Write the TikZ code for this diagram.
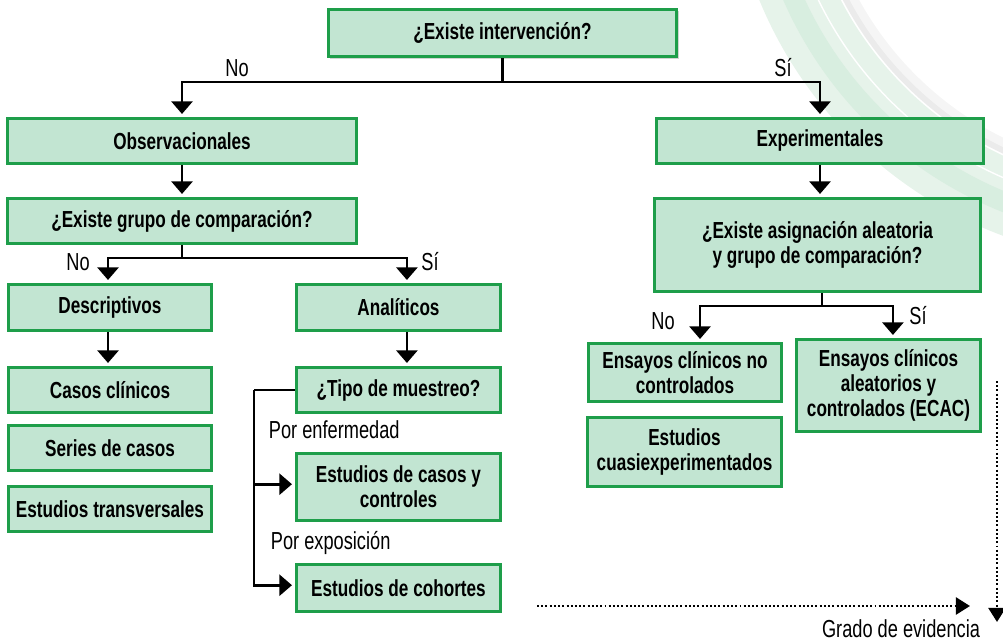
\documentclass[tikz,border=0pt]{standalone}
\usepackage{fontspec}
\setmainfont{Liberation Sans}[FakeStretch=0.74]
\usepackage{tikz}
\usetikzlibrary{arrows.meta,shadows}
\usepackage{xcolor}
\definecolor{boxfill}{HTML}{C2E5D2}
\definecolor{boxline}{HTML}{1E9E4A}
\definecolor{bandA}{HTML}{E6F3EA}
\definecolor{bandB}{HTML}{D8EEE0}

\begin{document}
\begin{tikzpicture}[x=0.025cm,y=-0.025cm,
  every node/.style={font=\fontsize{17.5pt}{18pt}\selectfont},
  box/.style={draw=boxline,fill=boxfill,line width=2pt,inner sep=2pt,align=center,font=\fontsize{16.5pt}{18pt}\selectfont\bfseries},
  line/.style={line width=1.9pt},
  arr/.style={line width=1.9pt,-{Triangle[width=15pt,length=9pt]},shorten >=2pt},
  dots/.style={line width=2pt,dash pattern=on 1.4pt off 1.6pt,-{Triangle[width=12pt,length=10pt]}}]
\useasboundingbox (0,0) rectangle (1003,642);
\fill[bandA,even odd rule] (1150,-160) circle[radius=10.55cm] (1150,-160) circle[radius=8.7cm];
\fill[bandB,even odd rule] (1150,-160) circle[radius=10.0cm] (1150,-160) circle[radius=9.5cm];
\draw[white,line width=1pt] (1150,-160) circle[radius=9.2cm];
\draw[black!8,line width=6pt] (1150,-160) circle[radius=8.55cm];
\draw[black!4,line width=6pt] (1150,-160) circle[radius=8.4cm];

\node[box,minimum width=8.71cm,minimum height=1.19cm,drop shadow={shadow xshift=1.5pt,shadow yshift=-1.5pt,opacity=0.35}] (q1) at (502.5,33) {¿Existe intervención?};
\node[box,minimum width=8.74cm,minimum height=1.14cm] (obs) at (182,141) {Observacionales};
\node[box,minimum width=8.19cm,minimum height=1.14cm] (exp) at (820,141) {Experimentales};
\node[box,minimum width=8.74cm,minimum height=1.14cm] (q2) at (182,221) {¿Existe grupo de comparación?};
\node[box,minimum width=8.165cm,minimum height=2.34cm] (q3) at (817.5,245) {¿Existe asignación aleatoria\\y grupo de comparación?};
\node[box,minimum width=5.09cm,minimum height=1.165cm] (desc) at (110,307.5) {Descriptivos};
\node[box,minimum width=5.115cm,minimum height=1.165cm] (anal) at (398.5,307.5) {Analíticos};
\node[box,minimum width=5.09cm,minimum height=1.14cm] (casos) at (110,390) {Casos clínicos};
\node[box,minimum width=5.09cm,minimum height=1.14cm] (series) at (110,448) {Series de casos};
\node[box,minimum width=5.09cm,minimum height=1.14cm] (transv) at (110,509) {Estudios transversales};
\node[box,minimum width=5.115cm,minimum height=1.14cm] (tipo) at (398.5,390) {¿Tipo de muestreo?};
\node[box,minimum width=5.115cm,minimum height=1.69cm] (casctrl) at (398.5,487) {Estudios de casos y\\controles};
\node[box,minimum width=5.115cm,minimum height=1.19cm] (cohort) at (398.5,588) {Estudios de cohortes};
\node[box,minimum width=4.84cm,minimum height=1.465cm] (ensno) at (685,372.5) {Ensayos clínicos no\\controlados};
\node[box,minimum width=4.865cm,minimum height=1.74cm] (cuasi) at (684.5,452) {Estudios\\cuasiexperimentados};
\node[box,minimum width=4.615cm,minimum height=2.315cm] (ecac) at (888.5,385.5) {Ensayos clínicos\\aleatorios y\\controlados (ECAC)};

\coordinate (j1) at (502.5,82);
\draw[line] (q1.south) -- (j1);
\draw[arr] (j1) -| (obs.north);
\draw[arr] (j1) -| (exp.north);
\node (no1) at (237,68) {No};
\node (si1) at (783,68) {Sí};

\draw[arr] (obs.south) -- (q2.north);
\coordinate (j2) at (182,258);
\draw[line] (q2.south) -- (j2);
\draw[arr] (j2) -| ([xshift=-0.05cm]desc.north);
\draw[arr] (j2) -| ([xshift=0.21cm]anal.north);
\node (no2) at (78,262) {No};
\node (si2) at (430,262) {Sí};

\draw[arr] ([xshift=-0.05cm]desc.south) -- ([xshift=-0.05cm]casos.north);
\draw[arr] ([xshift=0.21cm]anal.south) -- ([xshift=0.21cm]tipo.north);

\coordinate (k1) at (254,390);
\draw[line] (tipo.west) -- (k1);
\draw[arr] (k1) |- ([yshift=0.07cm]casctrl.west);
\draw[arr] (k1) |- ([yshift=0.07cm]cohort.west);
\node[anchor=west] (enf) at (264,430) {Por enfermedad};
\node[anchor=west] (expo) at (266,543) {Por exposición};

\draw[arr] (exp.south) -- (exp.south |- q3.north);
\coordinate (j3) at (822,306);
\draw[line] (j3 |- q3.south) -- (j3);
\draw[arr] (j3) -| ([xshift=0.375cm]ensno.north);
\draw[arr] (j3) -| ([xshift=0.11cm]ecac.north);
\node (no3) at (663,321) {No};
\node (si3) at (918,316) {Sí};

\coordinate (v1) at (997,381);
\coordinate (v2) at (997,622);
\coordinate (h1) at (537,606);
\coordinate (h2) at (970,606);
\draw[dots] (v1) -- (v2);
\draw[dots] (h1) -- (h2);
\node (grado) at (901,629) {Grado de evidencia};
\end{tikzpicture}
\end{document}
